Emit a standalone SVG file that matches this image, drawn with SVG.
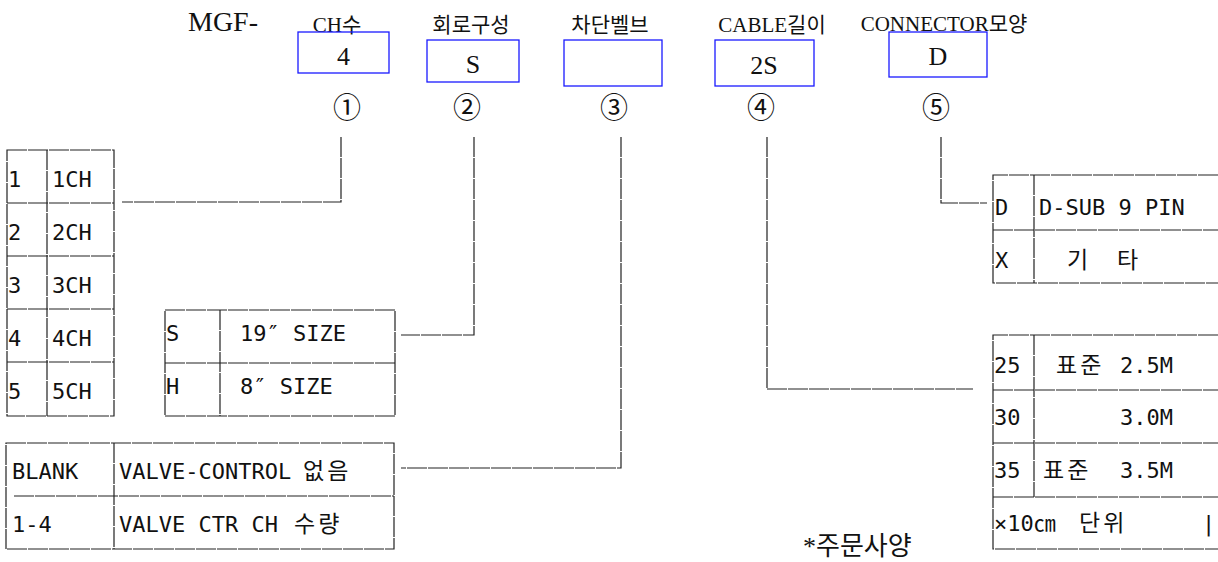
<svg xmlns="http://www.w3.org/2000/svg" width="1218" height="562" viewBox="0 0 1218 562">
<style>
.hd{font-family:"Liberation Serif","Noto Sans CJK KR",serif;fill:#111}
.bx{fill:none;stroke:#1a1aff;stroke-width:1.3}
.tb{fill:none;stroke:#222;stroke-width:1.2;stroke-dasharray:20 1}
.ln{fill:none;stroke:#222;stroke-width:1.2;stroke-dasharray:20 1}
.t{font-family:"DejaVu Sans Mono","Liberation Mono","Noto Sans CJK KR",monospace;font-size:22px;fill:#111}
.k{font-family:"Noto Sans CJK KR",sans-serif;font-size:23px;fill:#111;letter-spacing:3px}
.cn{font-family:"Noto Sans CJK KR","DejaVu Sans",sans-serif;font-size:28px;fill:#111;text-anchor:middle}
</style>
<rect width="1218" height="562" fill="#fff"/>
<g id="header">
<text class="hd" x="188" y="31" font-size="28">MGF-</text>
<text class="hd" x="337" y="32" font-size="21" text-anchor="middle">CH수</text>
<text class="hd" x="471" y="32" font-size="21" text-anchor="middle">회로구성</text>
<text class="hd" x="610" y="32" font-size="21" text-anchor="middle">차단벨브</text>
<text class="hd" x="772" y="32" font-size="21" text-anchor="middle">CABLE길이</text>
<text class="hd" x="944" y="31" font-size="21" text-anchor="middle">CONNECTOR모양</text>
</g>
<g id="box1"><rect class="bx" x="298" y="32" width="91" height="41"/><text class="hd" x="343.5" y="65" font-size="26" text-anchor="middle">4</text><text class="cn" x="347" y="118">①</text></g>
<g id="box2"><rect class="bx" x="427" y="40" width="92" height="42"/><text class="hd" x="473" y="73" font-size="26" text-anchor="middle">S</text><text class="cn" x="467" y="118">②</text></g>
<g id="box3"><rect class="bx" x="564" y="40" width="98" height="46"/><text class="cn" x="614" y="118">③</text></g>
<g id="box4"><rect class="bx" x="715" y="40" width="99" height="46"/><text class="hd" x="764" y="74" font-size="26" text-anchor="middle">2S</text><text class="cn" x="761" y="118">④</text></g>
<g id="box5"><rect class="bx" x="889" y="32" width="98" height="45"/><text class="hd" x="938" y="65" font-size="26" text-anchor="middle">D</text><text class="cn" x="936" y="118">⑤</text></g>

<g id="connectors">
<path class="ln" d="M341,137 V202 H122"/>
<path class="ln" d="M474,137 V335 H401"/>
<path class="ln" d="M621,137 V468 H401"/>
<path class="ln" d="M767,137 V389 H973"/>
<path class="ln" d="M941,137 V203 H987"/>
</g>

<g id="table-ch">
<path class="tb" d="M7,150 H114 V416 H7 Z M47,150 V416 M7,203 H114 M7,256 H114 M7,309 H114 M7,362 H114"/>
<text class="t" x="8" y="187">1</text><text class="t" x="52" y="187">1CH</text>
<text class="t" x="8" y="240">2</text><text class="t" x="52" y="240">2CH</text>
<text class="t" x="8" y="293">3</text><text class="t" x="52" y="293">3CH</text>
<text class="t" x="8" y="346">4</text><text class="t" x="52" y="346">4CH</text>
<text class="t" x="8" y="399">5</text><text class="t" x="52" y="399">5CH</text>
</g>

<g id="table-size">
<path class="tb" d="M165,310 H395 V416 H165 Z M220,310 V416 M165,363 H395"/>
<text class="t" x="166" y="341">S</text><text class="t" x="240" y="341">19″ SIZE</text>
<text class="t" x="166" y="394">H</text><text class="t" x="240" y="394">8″  SIZE</text>
</g>

<g id="table-valve">
<path class="tb" d="M6,443 H394 V549 H6 Z M114,443 V549 M14,496 H394"/>
<text class="t" x="12" y="479">BLANK</text><text class="t" x="119" y="479">VALVE-CONTROL</text><text class="k" x="303" y="479">없음</text>
<text class="t" x="12" y="532">1-4</text><text class="t" x="119" y="532">VALVE CTR CH</text><text class="k" x="294" y="532">수량</text>
</g>

<g id="table-connector">
<path class="tb" d="M1218,175 H993 V283 H1218 M1034,175 V283 M993,230 H1218"/>
<text class="t" x="995" y="215">D</text><text class="t" x="1039" y="215">D-SUB 9 PIN</text>
<text class="t" x="995" y="268">X</text><text class="k" x="1067" y="268">기</text><text class="k" x="1117" y="268">타</text>
</g>

<g id="table-cable">
<path class="tb" d="M1218,335 H993 V549 H1218 M1034,335 V497 M993,390 H1218 M993,443 H1218 M993,497 H1218"/>
<text class="t" x="994" y="373">25</text><text class="k" x="1056" y="373">표준</text><text class="t" x="1120" y="373">2.5M</text>
<text class="t" x="994" y="425">30</text><text class="t" x="1120" y="425">3.0M</text>
<text class="t" x="994" y="478">35</text><text class="k" x="1043" y="478">표준</text><text class="t" x="1120" y="478">3.5M</text>
<text class="t" x="994" y="531">×10㎝</text><text class="k" x="1079" y="531">단위</text>
<text class="t" x="1202" y="531">|</text>
</g>

<g id="note">
<text class="hd" x="803" y="555" font-size="26">*주문사양</text>
</g>
</svg>
